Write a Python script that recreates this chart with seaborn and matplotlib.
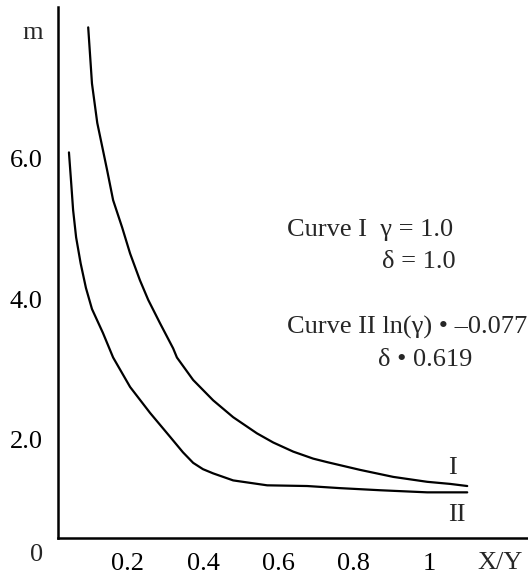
import seaborn as sns
import pandas as pd
import matplotlib.pyplot as plt

# Curve I (gamma = 1.0, delta = 1.0)
curve1_x = [0.096, 0.106, 0.120, 0.134, 0.146, 0.162, 0.186, 0.207, 0.233, 0.255,
            0.286, 0.321, 0.331, 0.374, 0.427, 0.480, 0.543, 0.586, 0.639, 0.692,
            0.729, 0.816, 0.904, 0.994, 1.055, 1.100]
curve1_m = [7.87, 7.07, 6.51, 6.15, 5.84, 5.41, 5.02, 4.65, 4.27, 3.99,
            3.66, 3.30, 3.17, 2.85, 2.56, 2.32, 2.09, 1.96, 1.83, 1.73,
            1.68, 1.57, 1.47, 1.40, 1.37, 1.34]
# Curve II (ln(gamma) = -0.077, delta = 0.619)
curve2_x = [0.045, 0.051, 0.056, 0.064, 0.076, 0.090, 0.106, 0.135, 0.162, 0.207,
            0.260, 0.313, 0.347, 0.374, 0.400, 0.427, 0.480, 0.570, 0.676, 0.763,
            0.869, 0.994, 1.100]
curve2_m = [6.09, 5.65, 5.27, 4.88, 4.51, 4.16, 3.86, 3.52, 3.17, 2.75,
            2.38, 2.04, 1.82, 1.67, 1.58, 1.52, 1.42, 1.35, 1.34, 1.31,
            1.28, 1.25, 1.25]

x_ticks = [0.2, 0.4, 0.6, 0.8, 1.0]
x_tick_labels = ['0.2', '0.4', '0.6', '0.8', '1']
y_ticks = [2.0, 4.0, 6.0]
y_tick_labels = ['2.0', '4.0', '6.0']

df = pd.concat([
    pd.DataFrame({'x': curve1_x, 'm': curve1_m, 'curve': 'I'}),
    pd.DataFrame({'x': curve2_x, 'm': curve2_m, 'curve': 'II'}),
])

sns.set_style('white')
plt.rcParams['font.family'] = ['Liberation Serif', 'DejaVu Serif']
FS = 19

fig = plt.figure(figsize=(5.28, 5.76), dpi=100)
ax = fig.add_axes([58 / 528, 38 / 576, 1 - 58 / 528, (538 - 7) / 576])

sns.lineplot(data=df, x='x', y='m', units='curve', estimator=None, sort=False,
             color='black', linewidth=1.6, ax=ax)

ax.set_xlim(0.016, 1.261)
ax.set_ylim(0.60, 8.16)
sns.despine(ax=ax)
for s in ['left', 'bottom']:
    ax.spines[s].set_linewidth(1.8)
    ax.spines[s].set_color('black')

ax.set_xticks(x_ticks)
ax.set_xticklabels(x_tick_labels)
ax.set_yticks(y_ticks)
ax.set_yticklabels(y_tick_labels)
ax.tick_params(axis='both', length=0, labelsize=FS, colors='black')
ax.tick_params(axis='x', pad=11)
ax.tick_params(axis='y', pad=11)
ax.set_xlabel('')
ax.set_ylabel('')

# axis labels and origin
ax.annotate('m', xy=(0, 7.79), xycoords=ax.get_yaxis_transform(),
            xytext=(-15, 0), textcoords='offset pixels',
            ha='right', va='center', fontsize=FS)
ax.annotate('0', xy=(0, 0), xycoords='axes fraction',
            xytext=(-21, -17), textcoords='offset pixels',
            ha='center', va='center', fontsize=FS)
ax.annotate('X/Y', xy=(1.187, 0), xycoords=ax.get_xaxis_transform(),
            xytext=(0, -25), textcoords='offset pixels',
            ha='center', va='center', fontsize=FS)

# curve labels
ax.text(1.06, 1.59, 'I', fontsize=FS, ha='center', va='center')
ax.text(1.073, 0.93, 'II', fontsize=FS, ha='center', va='center')

# parameter notes
ax.text(0.623, 4.98, 'Curve I  γ = 1.0', fontsize=FS, ha='left', va='center')
ax.text(0.874, 4.53, 'δ = 1.0', fontsize=FS, ha='left', va='center')
ax.text(0.623, 3.60, 'Curve II ln(γ) • –0.077', fontsize=FS, ha='left', va='center',
        clip_on=False)
ax.text(0.864, 3.13, 'δ • 0.619', fontsize=FS, ha='left', va='center')

plt.savefig('out.png', dpi=100)
